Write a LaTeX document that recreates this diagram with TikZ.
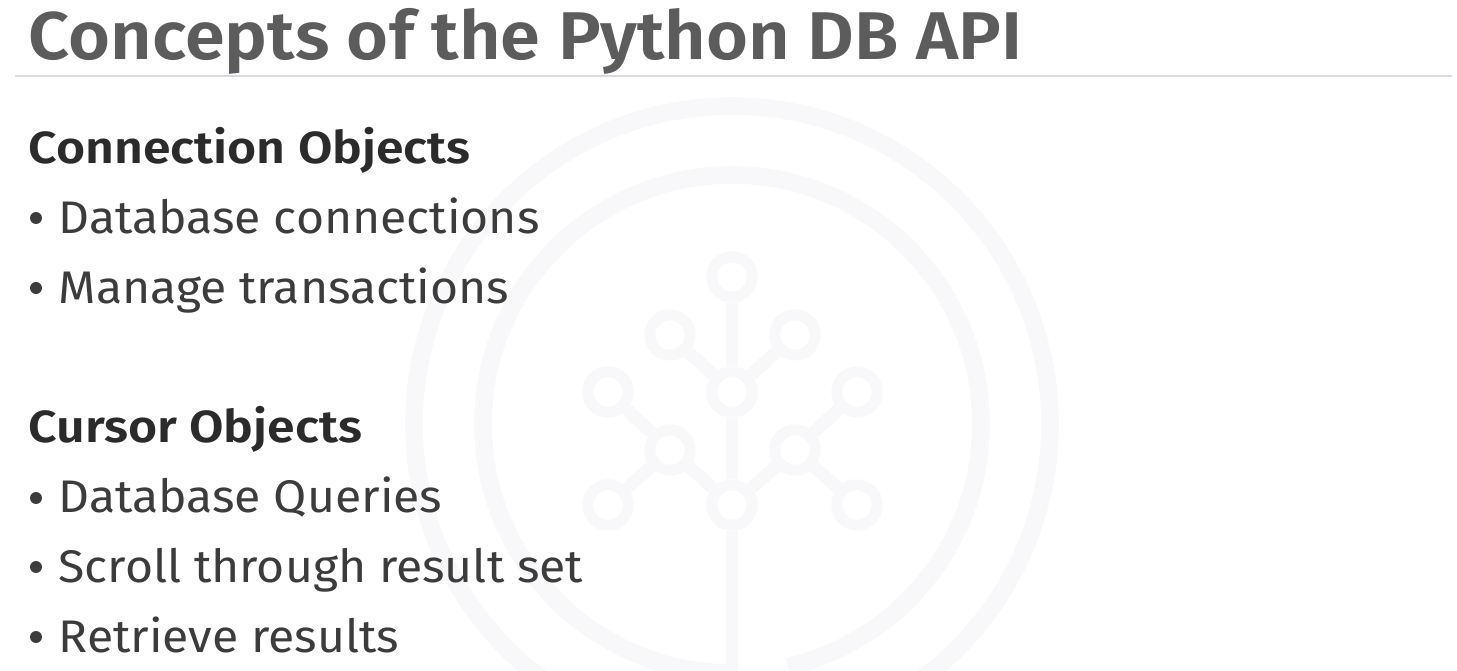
\documentclass[tikz,border=0pt]{standalone}
\usepackage{fontspec}
\setmainfont{Fira Sans}
\newfontfamily\titlefont[FakeStretch=1.066]{Fira Sans SemiBold}
\newfontfamily\headfont[FakeStretch=1.11]{Fira Sans SemiBold}
\newfontfamily\itemfont[FakeStretch=1.053]{Fira Sans}
\usetikzlibrary{calc}

\definecolor{logotint}{HTML}{F8F8FA}
\definecolor{titlegrey}{HTML}{5C5C5C}
\definecolor{headgrey}{HTML}{2B2B2B}
\definecolor{bodygrey}{HTML}{3C3C3C}
\definecolor{rulelilac}{HTML}{D9D6EE}

\tikzset{
	logoline/.style={draw=logotint, line width=3.6pt},
	logoband/.style={draw=logotint, line width=5pt},
	logoring/.style={draw=logotint, line width=3.1pt, fill=white, circle, inner sep=0pt, minimum size=11.5pt},
	slidetext/.style={anchor=base west, inner sep=0pt},
	titletext/.style={slidetext, text=titlegrey, font=\fontsize{19.2}{23}\selectfont\titlefont},
	headtext/.style={slidetext, text=headgrey, font=\fontsize{12.8}{15}\selectfont\headfont},
	itemtext/.style={slidetext, text=bodygrey, font=\fontsize{13}{15}\selectfont\itemfont},
	dotmark/.style={circle, fill=bodygrey, inner sep=0pt, minimum size=3.4pt}
}

\begin{document}
\begin{tikzpicture}[x=0.01cm,y=-0.01cm]

	\useasboundingbox (0, 0) rectangle (1457, 671);
	\fill [white] (0, 0) rectangle (1457, 671);

	% Rings
	\draw [logoband] (732, 424) circle[radius=318];
	\draw [logoband] (732, 424) ++(90:249) arc[start angle=90, end angle=437, radius=249];

	% Tree branch points
	\coordinate (stem) at (732, 671);
	\node [logoring] (n1) at (732, 277) {};
	\node [logoring] (n2) at (670, 335) {};
	\node [logoring] (n3) at (795, 335) {};
	\node [logoring] (n4) at (608, 392) {};
	\node [logoring] (n5) at (732, 392) {};
	\node [logoring] (n6) at (857, 392) {};
	\node [logoring] (n7) at (670, 450) {};
	\node [logoring] (n8) at (795, 450) {};
	\node [logoring] (n9) at (608, 505) {};
	\node [logoring] (n10) at (732, 505) {};
	\node [logoring] (n11) at (857, 505) {};

	% Tree branches
	\draw [logoline] (n1) -- (n5);
	\draw [logoline] (n5) -- (n10);
	\draw [logoline] (n10) -- (stem);
	\draw [logoline] (n2) -- (n5);
	\draw [logoline] (n3) -- (n5);
	\draw [logoline] (n4) -- (n7);
	\draw [logoline] (n6) -- (n8);
	\draw [logoline] (n7) -- (n10);
	\draw [logoline] (n8) -- (n10);
	\draw [logoline] (n9) -- (n7);
	\draw [logoline] (n11) -- (n8);

	% Title
	\node [titletext] (title) at (28, 60) {Concepts of the Python DB API};
	\coordinate (ruleL) at (15, 76);
	\coordinate (ruleR) at (1452, 76);
	\draw [rulelilac, line width=0.4pt] (ruleL) -- (ruleR);

	% Connection
	\node [headtext] (head1) at (28, 164) {Connection Objects};
	\node [dotmark] (dot1) at (36, 218) {};
	\node [itemtext] (item1) at (58, 234) {Database connections};
	\node [dotmark] (dot2) at (36, 288) {};
	\node [itemtext] (item2) at (58, 304) {Manage transactions};

	% Cursor
	\node [headtext] (head2) at (28, 443) {Cursor Objects};
	\node [dotmark] (dot3) at (36, 498) {};
	\node [itemtext] (item3) at (58, 513) {Database Queries};
	\node [dotmark] (dot4) at (36, 567) {};
	\node [itemtext] (item4) at (58, 583) {Scroll through result set};
	\node [dotmark] (dot5) at (36, 637) {};
	\node [itemtext] (item5) at (58, 653) {Retrieve results};

\end{tikzpicture}
\end{document}
